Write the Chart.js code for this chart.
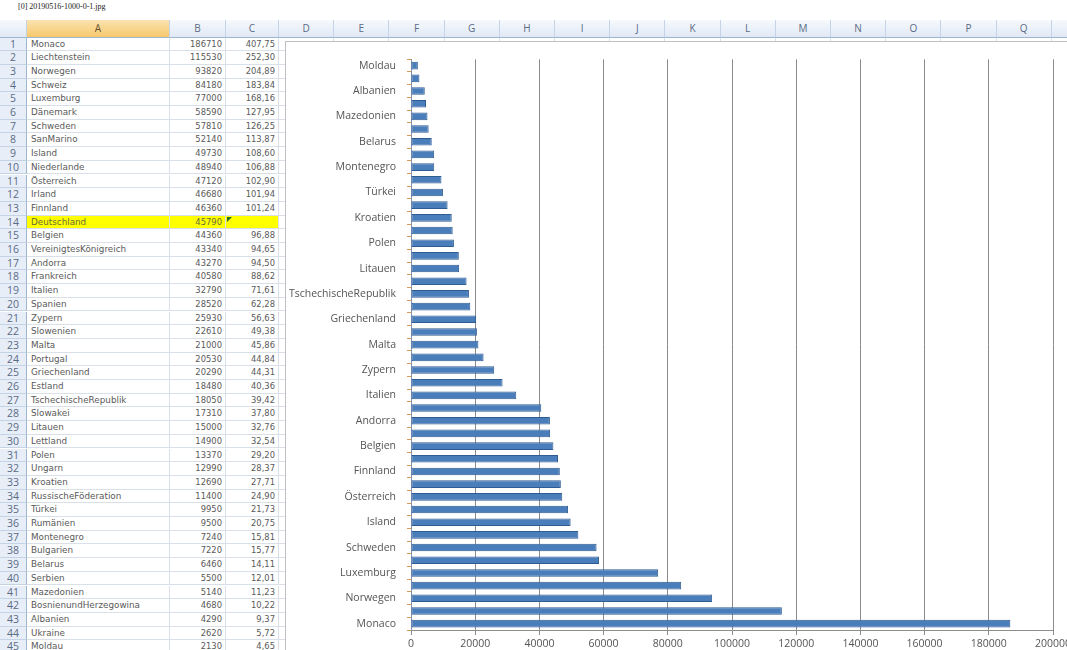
<!DOCTYPE html>
<html>
<head>
<meta charset="utf-8">
<script src="https://cdn.jsdelivr.net/npm/chart.js@4/dist/chart.umd.min.js"></script>
<style>
  html, body { margin: 0; padding: 0; background: #fff; overflow: hidden; }
  body { width: 1067px; height: 650px; position: relative; font-family: "DejaVu Sans", sans-serif; }
  .title { position: absolute; left: 18px; top: 2px; font: 8px "Liberation Serif", serif; color: #222; }
  .c { position: absolute; box-sizing: border-box; white-space: nowrap; overflow: hidden; }
  .colhdr { background: linear-gradient(#f6f9fd, #e1e9f5); border-right: 1px solid #c5d3e6; border-bottom: 1px solid #9eb6ce;
            color: #5b6b85; font: 10px "Open Sans", sans-serif; text-align: center; line-height: 17px; }
  .colhdr.sel { background: linear-gradient(#fbe3b0, #f7c86e); color: #6a5330; }
  .rowhdr { background: #e7eef8; border-right: 1px solid #9eb6ce; border-bottom: 1px solid #c5d3e6;
            color: #5b6b85; font: 10.5px "Open Sans", sans-serif; text-align: center; }
  .cell { border-right: 1px solid #d9e0ea; border-bottom: 1px solid #d9e0ea; color: #5a5a5a; font-size: 8.8px; padding: 0 3px 0 4px; }
  .num { text-align: right; font-size: 8.4px; }
  .hl { background: #ffff00; color: #6a6a3a; }
  #chartbox { position: absolute; left: 285px; top: 41px; width: 800px; height: 640px;
              background: #fff; border: 1px solid #c0c0c0; box-sizing: border-box; }
  #chart { position: absolute; left: 0; top: 0; }
</style>
</head>
<body>
<div class="title">[0] 20190516-1000-0-1.jpg</div>
<div id="sheet"></div>
<div id="chartbox"><canvas id="chart" width="800" height="620"></canvas></div>
<script>
// Werte aus Tabelle (Spalte A, B, C)
const countries = ['Monaco', 'Liechtenstein', 'Norwegen', 'Schweiz', 'Luxemburg', 'Dänemark', 'Schweden', 'SanMarino',
  'Island', 'Niederlande', 'Österreich', 'Irland', 'Finnland', 'Deutschland', 'Belgien', 'VereinigtesKönigreich',
  'Andorra', 'Frankreich', 'Italien', 'Spanien', 'Zypern', 'Slowenien', 'Malta', 'Portugal', 'Griechenland',
  'Estland', 'TschechischeRepublik', 'Slowakei', 'Litauen', 'Lettland', 'Polen', 'Ungarn', 'Kroatien',
  'RussischeFöderation', 'Türkei', 'Rumänien', 'Montenegro', 'Bulgarien', 'Belarus', 'Serbien', 'Mazedonien',
  'BosnienundHerzegowina', 'Albanien', 'Ukraine', 'Moldau'];
const gdp = [186710, 115530, 93820, 84180, 77000, 58590, 57810, 52140, 49730, 48940, 47120, 46680, 46360, 45790,
  44360, 43340, 43270, 40580, 32790, 28520, 25930, 22610, 21000, 20530, 20290, 18480, 18050, 17310, 15000, 14900,
  13370, 12990, 12690, 11400, 9950, 9500, 7240, 7220, 6460, 5500, 5140, 4680, 4290, 2620, 2130];
const percent = [407.75, 252.30, 204.89, 183.84, 168.16, 127.95, 126.25, 113.87, 108.60, 106.88, 102.90, 101.94,
  101.24, null, 96.88, 94.65, 94.50, 88.62, 71.61, 62.28, 56.63, 49.38, 45.86, 44.84, 44.31, 40.36, 39.42, 37.80,
  32.76, 32.54, 29.20, 28.37, 27.71, 24.90, 21.73, 20.75, 15.81, 15.77, 14.11, 12.01, 11.23, 10.22, 9.37, 5.72, 4.65];
const columnLetters = ['A', 'B', 'C', 'D', 'E', 'F', 'G', 'H', 'I', 'J', 'K', 'L', 'M', 'N', 'O', 'P', 'Q', 'R'];
const xMin = 0, xMax = 200000, xStep = 20000;
const highlightRow = 14;

// --- Tabelle ---
const sheet = document.getElementById('sheet');
const TOP = 20, HDR_H = 17.5, ROW_H = 13.7;
const colEdges = [27, 170, 226, 279];
for (let i = 4; i <= columnLetters.length; i++) colEdges.push(279 + (i - 3) * 55.2);

function box(cls, x, y, w, h, text) {
  const d = document.createElement('div');
  d.className = 'c ' + cls;
  d.style.left = x + 'px'; d.style.top = y + 'px';
  d.style.width = w + 'px'; d.style.height = h + 'px';
  d.style.lineHeight = h + 'px';
  if (text != null) d.textContent = text;
  sheet.appendChild(d);
  return d;
}

box('colhdr', 0, TOP, 27, HDR_H, '');
columnLetters.forEach((l, i) => {
  const x0 = i === 0 ? 27 : colEdges[i];
  box('colhdr' + (i === 0 ? ' sel' : ''), x0, TOP, colEdges[i + 1] - x0, HDR_H, l);
});

const fmt = v => v == null ? '' : v.toFixed(2).replace('.', ',');
countries.forEach((name, i) => {
  const y = TOP + HDR_H + i * ROW_H;
  const hl = i + 1 === highlightRow ? ' hl' : '';
  box('rowhdr', 0, y, 27, ROW_H, String(i + 1));
  box('cell' + hl, 27, y, 143, ROW_H, name);
  box('cell num' + hl, 170, y, 56, ROW_H, String(gdp[i]));
  box('cell num' + hl, 226, y, 53, ROW_H, fmt(percent[i]));
  for (let c = 3; c < columnLetters.length; c++) box('cell', colEdges[c], y, colEdges[c + 1] - colEdges[c], ROW_H, '');
});
// kleines Fehlerdreieck in C14
const tri = document.createElement('div');
tri.style.cssText = 'position:absolute;left:227px;top:' + (TOP + HDR_H + 13 * ROW_H + 1) +
  'px;width:0;height:0;border-top:5px solid #2d6b2d;border-right:5px solid transparent;';
sheet.appendChild(tri);

// --- Diagramm ---
new Chart(document.getElementById('chart'), {
  type: 'bar',
  data: {
    labels: countries,
    datasets: [{
      data: gdp,
      backgroundColor: '#4a7ebb',
      borderColor: '#2e5b91',
      borderWidth: 1,
      borderSkipped: false,
      categoryPercentage: 1,
      barPercentage: 0.6
    }]
  },
  options: {
    indexAxis: 'y',
    responsive: false,
    animation: false,
    layout: { padding: { top: 15.6, left: 0, right: 33, bottom: 10 } },
    plugins: { legend: { display: false }, tooltip: { enabled: false } },
    scales: {
      x: {
        min: xMin, max: xMax,
        afterFit: s => { s.height = 22; },
        ticks: { stepSize: xStep, padding: 3, color: '#555', font: { family: 'Open Sans', size: 10.5 },
                 callback: v => String(v) },
        grid: { color: '#8c8c8c', tickLength: 5 },
        border: { color: '#8c8c8c' }
      },
      y: {
        reverse: true,
        afterFit: s => { s.width = 125; },
        ticks: {
          autoSkip: false, padding: 11, color: '#555', font: { family: 'Open Sans', size: 10.5 },
          callback: function (v, i) { return i % 2 === 0 ? this.getLabelForValue(v) : ''; }
        },
        grid: { drawOnChartArea: false, tickLength: 4, color: '#d29c55' },
        border: { color: '#7f93b4' }
      }
    }
  }
});
</script>
</body>
</html>
